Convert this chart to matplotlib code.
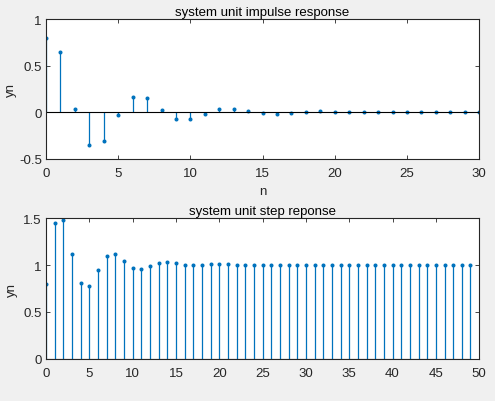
import numpy as np
import matplotlib
matplotlib.use("Agg")
import matplotlib.pyplot as plt

# values
n_imp = np.arange(0, 31)
y_imp = [0.80, 0.645, 0.035, -0.355, -0.305, -0.028, 0.163, 0.149, 0.021, -0.071,
         -0.068, -0.014, 0.035, 0.035, 0.010, -0.012, -0.014, -0.003, 0.007, 0.010,
         0.004, 0.0, 0.0, 0.001, 0.001, 0.001, 0.0, 0.0, 0.0, 0.0, 0.0]

n_step = np.arange(0, 50)
y_step = [0.803, 1.447, 1.478, 1.119, 0.813, 0.781, 0.945, 1.091, 1.112, 1.041,
          0.967, 0.957, 0.989, 1.024, 1.031, 1.017, 1.000, 0.996, 1.003, 1.010,
          1.010, 1.008, 1.003, 1.0, 1.0, 1.0, 1.0, 1.0, 1.0, 1.0,
          1.0, 1.0, 1.0, 1.0, 1.0, 1.0, 1.0, 1.0, 1.0, 1.0,
          1.0, 1.0, 1.0, 1.0, 1.0, 1.0, 1.0, 1.0, 1.0, 1.0]

blue = "#0072BD"
txt = "#262626"
plt.rcParams["font.family"] = ["Liberation Sans", "DejaVu Sans"]
plt.rcParams["font.size"] = 9.5

fig = plt.figure(figsize=(4.95, 4.02), dpi=100, facecolor="#F0F0F0")


def style(ax):
    ax.set_facecolor("white")
    for s in ax.spines.values():
        s.set_color(txt)
        s.set_linewidth(0.8)
    ax.tick_params(direction="in", top=True, right=True, length=3, width=0.6,
                   colors=txt, labelcolor=txt, labelsize=9.5, pad=3)
    ax.tick_params(axis="x", pad=6)


ax1 = fig.add_axes([0.093, 0.602, 0.875, 0.348])
ml, sl, bl = ax1.stem(n_imp, y_imp, basefmt="k-")
plt.setp(sl, color=blue, linewidth=0.9)
plt.setp(ml, color=blue, marker="o", markersize=1.9)
plt.setp(bl, color="black", linewidth=0.8)
ax1.set_xlim(0, 30)
ax1.set_ylim(-0.5, 1)
ax1.set_xticks([0, 5, 10, 15, 20, 25, 30])
ax1.set_yticks([-0.5, 0, 0.5, 1])
ax1.set_yticklabels(["-0.5", "0", "0.5", "1"])
ax1.set_title("system unit impulse response", fontsize=9.5, color="black", pad=3)
ax1.set_xlabel("n", color=txt, labelpad=4)
ax1.set_ylabel("yn", color=txt)
ax1.yaxis.set_label_coords(-0.066, 0.5)
style(ax1)

ax2 = fig.add_axes([0.093, 0.1045, 0.875, 0.3507])
ml, sl, bl = ax2.stem(n_step, y_step, basefmt="k-")
plt.setp(sl, color=blue, linewidth=0.9)
plt.setp(ml, color=blue, marker="o", markersize=1.9)
plt.setp(bl, color=txt, linewidth=0.8)
ax2.set_xlim(0, 50)
ax2.set_ylim(0, 1.5)
ax2.set_xticks(np.arange(0, 51, 5))
ax2.set_yticks([0, 0.5, 1, 1.5])
ax2.set_yticklabels(["0", "0.5", "1", "1.5"])
ax2.set_title("system unit step reponse", fontsize=9.5, color="black", pad=3)
ax2.set_ylabel("yn", color=txt)
ax2.yaxis.set_label_coords(-0.064, 0.5)
style(ax2)

fig.savefig("out.png", dpi=100, facecolor=fig.get_facecolor())
